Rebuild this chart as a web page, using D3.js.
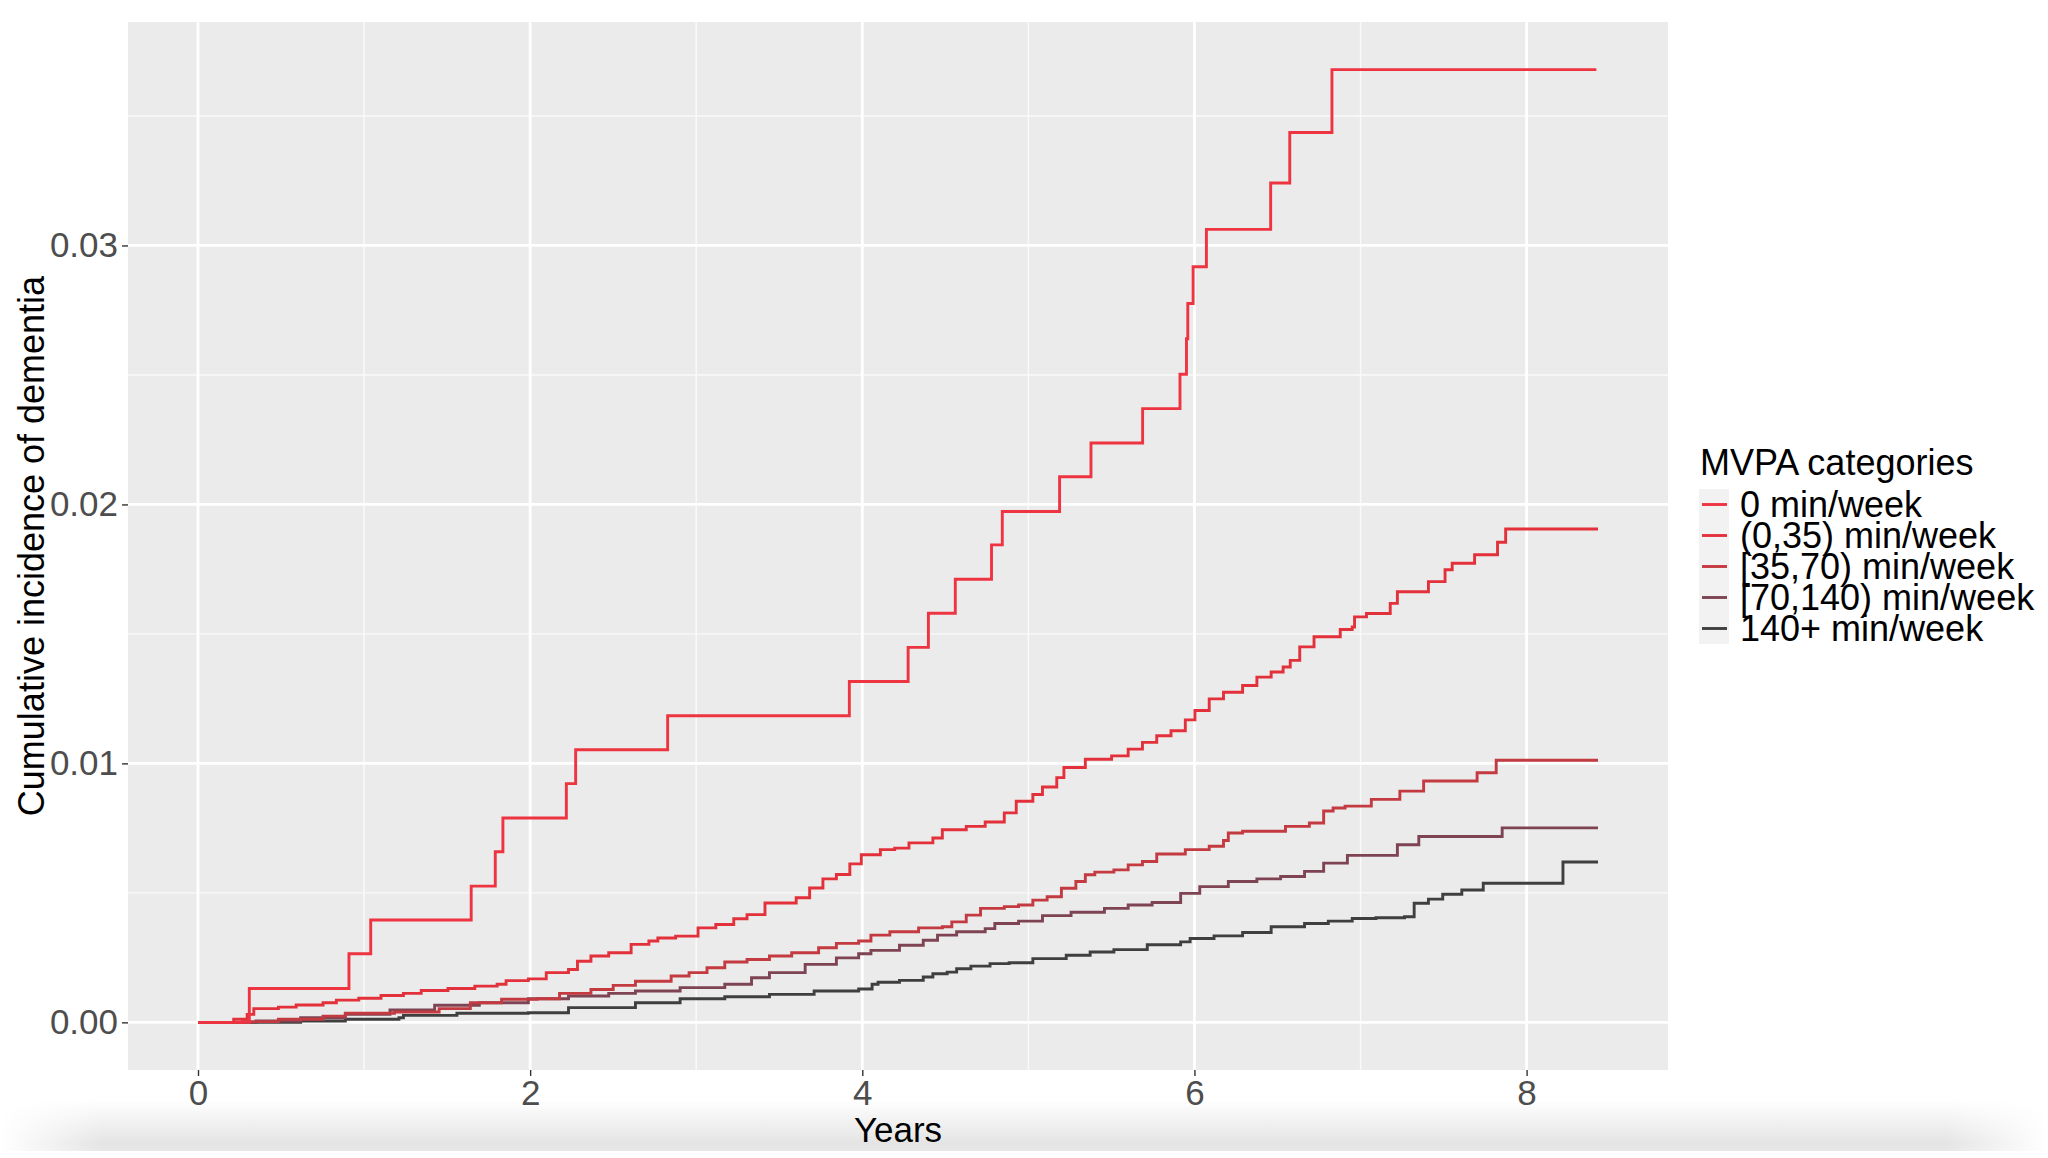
<!DOCTYPE html>
<html lang="en">
<head>
    <meta charset="UTF-8">
    <title>Cumulative incidence of dementia by MVPA</title>
    <script src="https://d3js.org/d3.v7.min.js"></script>
    <style>
        body { margin: 0; background: #fff; }
        text { font-family: "Liberation Sans", Arial, sans-serif; }
    </style>
</head>
<body>
<script>
    // categories and colours
    var categories = ["0 min/week", "(0,35) min/week", "[35,70) min/week", "[70,140) min/week", "140+ min/week"];
    var colors = ["#ee3440", "#e3313b", "#c33a41", "#7e4453", "#3f3f3f"];

    // step points: [years, cumulative incidence]
    var mvpa0 = [[0, 0], [0.309, 0.00131], [0.909, 0.00265], [1.040, 0.00395], [1.645, 0.00526], [1.790, 0.00659],
        [1.836, 0.00789], [2.218, 0.00922], [2.274, 0.01053], [2.828, 0.01184], [3.922, 0.01316], [4.276, 0.01448],
        [4.398, 0.01580], [4.560, 0.01711], [4.778, 0.01844], [4.843, 0.01973], [5.188, 0.02107], [5.377, 0.02237],
        [5.688, 0.02370], [5.913, 0.02503], [5.952, 0.02640], [5.960, 0.02776], [5.992, 0.02918], [6.072, 0.03062],
        [6.459, 0.03241], [6.574, 0.03436], [6.828, 0.03679], [8.42, 0.03679]];

    var mvpa0to35 = [[0, 0], [0.215, 0.00012], [0.296, 0.00031], [0.336, 0.00053], [0.484, 0.00059], [0.591, 0.00067],
        [0.753, 0.00076], [0.833, 0.00086], [0.968, 0.00093], [1.102, 0.00104], [1.237, 0.00112], [1.344, 0.00123],
        [1.505, 0.00131], [1.667, 0.00140], [1.801, 0.00147], [1.855, 0.00161], [1.989, 0.00168], [2.097, 0.00192],
        [2.231, 0.00204], [2.285, 0.00236], [2.366, 0.00256], [2.473, 0.00269], [2.608, 0.00301], [2.715, 0.00314],
        [2.769, 0.00326], [2.876, 0.00333], [3.011, 0.00365], [3.118, 0.00378], [3.226, 0.00400], [3.306, 0.00416],
        [3.414, 0.00461], [3.602, 0.00481], [3.683, 0.00519], [3.763, 0.00554], [3.844, 0.00571], [3.925, 0.00612],
        [3.994, 0.00647], [4.109, 0.00667], [4.195, 0.00673], [4.281, 0.00693], [4.425, 0.00712], [4.482, 0.00744],
        [4.626, 0.00757], [4.740, 0.00774], [4.855, 0.00809], [4.927, 0.00854], [5.027, 0.00880], [5.085, 0.00909],
        [5.171, 0.00945], [5.214, 0.00984], [5.343, 0.01016], [5.501, 0.01029], [5.601, 0.01055], [5.687, 0.01081],
        [5.773, 0.01107], [5.859, 0.01126], [5.945, 0.01168], [6.003, 0.01204], [6.089, 0.01249], [6.175, 0.01275],
        [6.290, 0.01301], [6.376, 0.01333], [6.462, 0.01353], [6.534, 0.01372], [6.577, 0.01398], [6.634, 0.01450],
        [6.720, 0.01489], [6.878, 0.01517], [6.950, 0.01527], [6.964, 0.01566], [7.036, 0.01579], [7.179, 0.01618],
        [7.222, 0.01663], [7.409, 0.01702], [7.509, 0.01748], [7.552, 0.01773], [7.687, 0.01806], [7.825, 0.01854],
        [7.874, 0.01905], [8.43, 0.01905]];

    var mvpa35to70 = [[0, 0], [0.269, 0.00003], [0.484, 0.00012], [0.753, 0.00024], [0.887, 0.00035], [1.183, 0.00040],
        [1.452, 0.00053], [1.640, 0.00076], [1.828, 0.00089], [2.043, 0.00091], [2.177, 0.00112], [2.366, 0.00127],
        [2.500, 0.00143], [2.634, 0.00159], [2.849, 0.00179], [2.957, 0.00192], [3.065, 0.00211], [3.172, 0.00233],
        [3.306, 0.00243], [3.441, 0.00256], [3.575, 0.00269], [3.737, 0.00288], [3.844, 0.00305], [3.978, 0.00314],
        [4.052, 0.00337], [4.166, 0.00350], [4.339, 0.00365], [4.482, 0.00369], [4.539, 0.00388], [4.626, 0.00414],
        [4.712, 0.00440], [4.855, 0.00447], [4.941, 0.00453], [5.027, 0.00472], [5.113, 0.00485], [5.199, 0.00518],
        [5.286, 0.00544], [5.343, 0.00570], [5.400, 0.00580], [5.515, 0.00589], [5.601, 0.00608], [5.687, 0.00621],
        [5.773, 0.00650], [5.945, 0.00667], [6.089, 0.00680], [6.175, 0.00702], [6.204, 0.00731], [6.290, 0.00738],
        [6.548, 0.00757], [6.692, 0.00770], [6.778, 0.00816], [6.835, 0.00828], [6.907, 0.00835], [7.065, 0.00861],
        [7.237, 0.00893], [7.380, 0.00932], [7.702, 0.00964], [7.817, 0.01012], [8.43, 0.01012]];

    var mvpa70to140 = [[0, 0], [0.349, 0.00005], [0.618, 0.00018], [0.887, 0.00031], [1.156, 0.00048], [1.425, 0.00066],
        [1.694, 0.00076], [1.989, 0.00091], [2.231, 0.00102], [2.473, 0.00112], [2.634, 0.00121], [2.903, 0.00134],
        [3.172, 0.00147], [3.333, 0.00172], [3.441, 0.00192], [3.656, 0.00224], [3.844, 0.00249], [3.978, 0.00265],
        [4.052, 0.00278], [4.224, 0.00298], [4.367, 0.00317], [4.453, 0.00337], [4.568, 0.00350], [4.740, 0.00362],
        [4.798, 0.00382], [4.941, 0.00391], [5.085, 0.00412], [5.257, 0.00425], [5.458, 0.00440], [5.601, 0.00453],
        [5.745, 0.00463], [5.917, 0.00498], [6.032, 0.00524], [6.204, 0.00544], [6.376, 0.00554], [6.519, 0.00563],
        [6.663, 0.00583], [6.778, 0.00615], [6.921, 0.00645], [7.222, 0.00686], [7.351, 0.00718], [7.853, 0.00751],
        [8.43, 0.00751]];

    var mvpa140plus = [[0, 0], [0.618, 0.00005], [0.887, 0.00012], [1.210, 0.00018], [1.237, 0.00027], [1.559, 0.00035],
        [1.989, 0.00037], [2.231, 0.00057], [2.634, 0.00076], [2.903, 0.00091], [3.172, 0.00099], [3.441, 0.00108],
        [3.710, 0.00121], [3.978, 0.00129], [4.059, 0.00147], [4.095, 0.00155], [4.224, 0.00162], [4.367, 0.00175],
        [4.425, 0.00188], [4.511, 0.00194], [4.568, 0.00207], [4.654, 0.00217], [4.769, 0.00227], [4.884, 0.00230],
        [5.027, 0.00246], [5.228, 0.00259], [5.372, 0.00272], [5.515, 0.00281], [5.716, 0.00300], [5.917, 0.00311],
        [5.974, 0.00324], [6.118, 0.00334], [6.290, 0.00347], [6.462, 0.00369], [6.663, 0.00382], [6.806, 0.00391],
        [6.950, 0.00401], [7.093, 0.00404], [7.265, 0.00408], [7.323, 0.00460], [7.409, 0.00476], [7.495, 0.00495],
        [7.610, 0.00511], [7.739, 0.00537], [8.219, 0.00619], [8.43, 0.00619]];

    var seriesData = [mvpa0, mvpa0to35, mvpa35to70, mvpa70to140, mvpa140plus];

    // tick values
    var xTicks = [0, 2, 4, 6, 8];
    var xMinor = [1, 3, 5, 7];
    var yTicks = [0, 0.01, 0.02, 0.03];
    var yMinor = [0.005, 0.015, 0.025, 0.035];

    var W = 2048, H = 1158;
    var panel = {left: 128, top: 22, right: 1668, bottom: 1070};

    var svg = d3.select("body").append("svg")
        .attr("width", W)
        .attr("height", H);

    // ggplot style 5% expansion of the data range
    var allPts = d3.merge(seriesData);
    var xExt = d3.extent(allPts, function(d) { return d[0]; });
    var yExt = d3.extent(allPts, function(d) { return d[1]; });
    var xPad = (xExt[1] - xExt[0]) * 0.05, yPad = (yExt[1] - yExt[0]) * 0.05;

    var x = d3.scaleLinear()
        .domain([xExt[0] - xPad, xExt[1] + xPad])
        .range([panel.left, panel.right]);
    var y = d3.scaleLinear()
        .domain([yExt[0] - yPad, yExt[1] + yPad])
        .range([panel.bottom, panel.top]);

    // panel background
    svg.append("rect")
        .attr("x", panel.left)
        .attr("y", panel.top)
        .attr("width", panel.right - panel.left)
        .attr("height", panel.bottom - panel.top)
        .attr("fill", "#ebebeb");

    var grid = svg.append("g");
    grid.selectAll(".ym").data(yMinor).enter().append("line")
        .attr("x1", panel.left).attr("x2", panel.right)
        .attr("y1", function(d) { return y(d); }).attr("y2", function(d) { return y(d); })
        .attr("stroke", "#fafafa").attr("stroke-width", 1.4);
    grid.selectAll(".xm").data(xMinor).enter().append("line")
        .attr("y1", panel.top).attr("y2", panel.bottom)
        .attr("x1", function(d) { return x(d); }).attr("x2", function(d) { return x(d); })
        .attr("stroke", "#fafafa").attr("stroke-width", 1.4);
    grid.selectAll(".yM").data(yTicks).enter().append("line")
        .attr("x1", panel.left).attr("x2", panel.right)
        .attr("y1", function(d) { return y(d); }).attr("y2", function(d) { return y(d); })
        .attr("stroke", "#ffffff").attr("stroke-width", 2.8);
    grid.selectAll(".xM").data(xTicks).enter().append("line")
        .attr("y1", panel.top).attr("y2", panel.bottom)
        .attr("x1", function(d) { return x(d); }).attr("x2", function(d) { return x(d); })
        .attr("stroke", "#ffffff").attr("stroke-width", 2.8);

    // step curves, drawn black first so the reds end up on top
    var line = d3.line()
        .x(function(d) { return x(d[0]); })
        .y(function(d) { return y(d[1]); })
        .curve(d3.curveStepAfter);

    var order = [4, 3, 2, 1, 0];
    svg.append("g").selectAll("path")
        .data(order)
        .enter()
        .append("path")
        .attr("d", function(i) { return line(seriesData[i]); })
        .attr("fill", "none")
        .attr("stroke", function(i) { return colors[i]; })
        .attr("stroke-width", 2.9)
        .attr("stroke-linejoin", "miter");

    // axes
    var xAxis = svg.append("g")
        .attr("transform", "translate(0," + panel.bottom + ")")
        .call(d3.axisBottom(x).tickValues(xTicks).tickFormat(d3.format("d")).tickSize(6).tickPadding(4));
    var yAxis = svg.append("g")
        .attr("transform", "translate(" + panel.left + ",0)")
        .call(d3.axisLeft(y).tickValues(yTicks).tickFormat(d3.format(".2f")).tickSize(6).tickPadding(4));

    [xAxis, yAxis].forEach(function(a) {
        a.select(".domain").remove();
        a.selectAll(".tick line").attr("stroke", "#333333").attr("stroke-width", 1.4);
        a.selectAll(".tick text")
            .attr("fill", "#4d4d4d")
            .style("font-size", "35px")
            .style("font-family", "'Liberation Sans', Arial, sans-serif");
    });

    // axis titles
    svg.append("text")
        .attr("x", (panel.left + panel.right) / 2)
        .attr("y", 1142)
        .attr("text-anchor", "middle")
        .style("font-size", "35px")
        .attr("fill", "#000")
        .text("Years");

    svg.append("text")
        .attr("transform", "translate(44," + ((panel.top + panel.bottom) / 2) + ") rotate(-90)")
        .attr("text-anchor", "middle")
        .style("font-size", "36px")
        .attr("fill", "#000")
        .text("Cumulative incidence of dementia");

    // legend
    var legend = svg.append("g").attr("transform", "translate(1699,0)");
    legend.append("text")
        .attr("x", 1)
        .attr("y", 475)
        .style("font-size", "36px")
        .attr("fill", "#000")
        .text("MVPA categories");

    var keyTop = 489, keyH = 31;
    legend.append("rect")
        .attr("x", 0).attr("y", keyTop)
        .attr("width", 30).attr("height", keyH * categories.length)
        .attr("fill", "#f2f2f2");

    var items = legend.selectAll(".item")
        .data(categories)
        .enter()
        .append("g")
        .attr("transform", function(d, i) { return "translate(0," + (keyTop + keyH * i + keyH / 2) + ")"; });
    items.append("line")
        .attr("x1", 3).attr("x2", 28)
        .attr("stroke", function(d, i) { return colors[i]; })
        .attr("stroke-width", 2.9);
    items.append("text")
        .attr("x", 41)
        .attr("y", 12.5)
        .style("font-size", "36px")
        .attr("fill", "#000")
        .text(function(d) { return d; });

    // soft grey band along the bottom of the frame
    var defs = svg.append("defs");
    var vg = defs.append("linearGradient").attr("id", "band").attr("x1", 0).attr("y1", 0).attr("x2", 0).attr("y2", 1);
    vg.append("stop").attr("offset", "0%").attr("stop-color", "#e4e4e4").attr("stop-opacity", 0);
    vg.append("stop").attr("offset", "85%").attr("stop-color", "#e4e4e4").attr("stop-opacity", 1);
    vg.append("stop").attr("offset", "100%").attr("stop-color", "#e8e8e8").attr("stop-opacity", 1);
    var hg = defs.append("linearGradient").attr("id", "fadeH").attr("x1", 0).attr("y1", 0).attr("x2", 1).attr("y2", 0);
    hg.append("stop").attr("offset", "0%").attr("stop-color", "#fff").attr("stop-opacity", 0);
    hg.append("stop").attr("offset", "5%").attr("stop-color", "#fff").attr("stop-opacity", 1);
    hg.append("stop").attr("offset", "95%").attr("stop-color", "#fff").attr("stop-opacity", 1);
    hg.append("stop").attr("offset", "100%").attr("stop-color", "#fff").attr("stop-opacity", 0);
    var mask = defs.append("mask").attr("id", "bandMask");
    mask.append("rect").attr("x", 0).attr("y", 1100).attr("width", W).attr("height", 52).attr("fill", "url(#fadeH)");
    svg.insert("rect", ":first-child")
        .attr("x", 0).attr("y", 1100)
        .attr("width", W).attr("height", 51)
        .attr("fill", "url(#band)")
        .attr("mask", "url(#bandMask)");
</script>
</body>
</html>
